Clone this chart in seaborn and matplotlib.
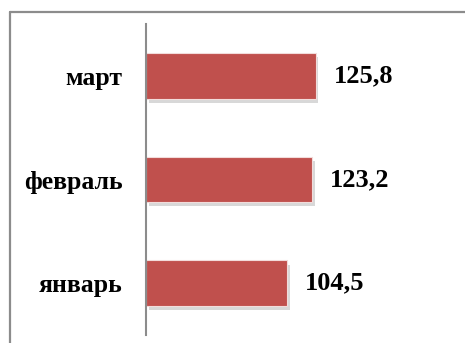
import matplotlib
matplotlib.use("Agg")
import matplotlib.pyplot as plt
import matplotlib.patheffects as pe
from matplotlib.lines import Line2D
import seaborn as sns
import pandas as pd

months = ["март", "февраль", "январь"]
values = [125.8, 123.2, 104.5]
value_labels = ["125,8", "123,2", "104,5"]

sns.set_theme(style="white")
plt.rcParams["font.family"] = ["Liberation Serif", "DejaVu Serif"]

df = pd.DataFrame({"month": months, "value": values})

fig = plt.figure(figsize=(4.65, 3.43), dpi=100)
ax = fig.add_axes([146 / 465, 8 / 343, 310 / 465, 311 / 343])

sns.barplot(data=df, x="value", y="month", order=months, orient="h",
            color="#C0504D", saturation=1, width=0.44, ax=ax,
            edgecolor="#f2dcdb", linewidth=0.8)

for bar in ax.patches:
    bar.set_path_effects([
        pe.SimplePatchShadow(offset=(2, -3), shadow_rgbFace="#7f7f7f", alpha=0.3),
        pe.Normal(),
    ])

for bar, lab in zip(ax.patches, value_labels):
    ax.annotate(lab, (bar.get_width(), bar.get_y() + bar.get_height() / 2),
                xytext=(13, 0), textcoords="offset points",
                ha="left", va="center", fontsize=19, fontweight="bold",
                color="black")

ax.set_xlim(0, 230)
ax.set_ylim(2.5, -0.5)
ax.set_xlabel("")
ax.set_ylabel("")
ax.set_xticks([])
ax.tick_params(axis="y", length=0, pad=17)
for lab in ax.get_yticklabels():
    lab.set_fontsize(18.5)
    lab.set_fontweight("bold")
    lab.set_color("black")

for side in ["top", "right", "bottom"]:
    ax.spines[side].set_visible(False)
ax.spines["left"].set_color("#8c8c8c")
ax.spines["left"].set_linewidth(1.5)

# outer chart frame
fig.add_artist(Line2D([10 / 465, 10 / 465], [0, 1 - 12 / 343],
                      transform=fig.transFigure, color="#8c8c8c", lw=1.6))
fig.add_artist(Line2D([10 / 465, 1], [1 - 12 / 343, 1 - 12 / 343],
                      transform=fig.transFigure, color="#8c8c8c", lw=1.6))

fig.savefig("out.png", dpi=100)
